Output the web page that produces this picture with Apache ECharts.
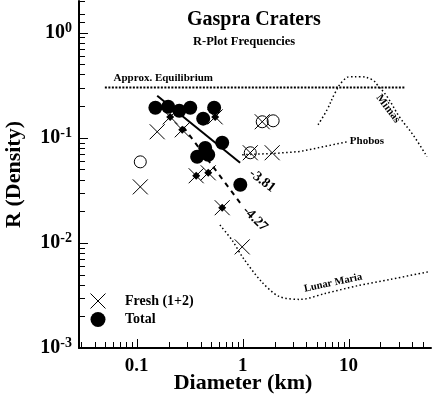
<!DOCTYPE html>
<html>
<head>
<meta charset="utf-8">
<script src="https://cdn.jsdelivr.net/npm/echarts@6/dist/echarts.min.js"></script>
<style>
  html, body { margin: 0; padding: 0; background: #fff; }
  #chart { width: 435px; height: 397px; }
</style>
</head>
<body>
<div id="chart"></div>
<script>
// values: [diameter km, R]
const totalPts = [[0.150, 0.193], [0.198, 0.197], [0.252, 0.181], [0.320, 0.193], [0.424, 0.152],
    [0.538, 0.193], [0.641, 0.0896], [0.443, 0.080], [0.372, 0.066], [0.473, 0.069], [0.95, 0.0357]];
const freshPts = [[0.156, 0.114], [0.108, 0.0341], [0.99, 0.00916], [1.53, 0.142], [1.18, 0.072], [1.90, 0.072]];
const freshInTotal = [[0.207, 0.158], [0.269, 0.119], [0.55, 0.158], [0.364, 0.0435], [0.473, 0.0464], [0.641, 0.0216]];
const openPts = [[0.108, 0.059], [1.53, 0.142], [1.94, 0.145], [1.18, 0.072]];

const fit381 = [[0.156, 0.251], [0.946, 0.0578]];
const fit427 = [[0.275, 0.127], [0.946, 0.024]];
const equilibrium = [[0.05, 0.3], [34, 0.3]];
const phobos = [[0.99, 0.069], [2.0, 0.071], [3.5, 0.074], [9.9, 0.092]];
const lunarMaria = [[0.61, 0.0148], [0.8, 0.0105], [1.0, 0.0073], [1.5, 0.0043], [2.2, 0.0031],
    [3.5, 0.0029], [6, 0.0033], [12, 0.0039], [25, 0.0045], [56, 0.0053]];
const mimas = [[5.15, 0.133], [6.27, 0.185], [7.46, 0.268], [8.69, 0.341], [10.3, 0.381], [12.8, 0.381],
    [16.7, 0.357], [18.6, 0.320], [23.1, 0.246], [30.6, 0.155], [40.5, 0.107], [55, 0.066]];

const xMajor = [0.1, 1, 10];
const xMinor = [0.03, 0.04, 0.05, 0.06, 0.07, 0.08, 0.09, 0.2, 0.3, 0.4, 0.5, 0.6, 0.7, 0.8, 0.9,
    2, 3, 4, 5, 6, 7, 8, 9, 20, 30, 40, 50];
const yMajor = [0.001, 0.01, 0.1, 1];
const yMinor = [0.002, 0.003, 0.004, 0.005, 0.006, 0.007, 0.008, 0.009, 0.02, 0.03, 0.04, 0.05, 0.06,
    0.07, 0.08, 0.09, 0.2, 0.3, 0.4, 0.5, 0.6, 0.7, 0.8, 0.9, 1.25, 1.5, 2];

const X_MIN = 0.0285, X_MAX = 60, Y_MIN = 0.001, Y_MAX = 2;
const FONT = "'Liberation Serif', 'Times New Roman', serif";
const CROSS = 'path://M0,0L10,10M10,0L0,10';

// text notes on the plot
const notes = [
    { text: 'Approx. Equilibrium', at: [0.178, 0.373], rotate: 0, size: 11 },
    { text: 'Phobos', at: [14.9, 0.0936], rotate: 0, size: 11 },
    { text: 'Lunar Maria', at: [7.14, 0.00416], rotate: 12, size: 10.5 },
    { text: 'Mimas', at: [23.6, 0.189], rotate: -53, size: 11 },
    { text: '-3.81', at: [1.53, 0.039], rotate: -37, size: 14 },
    { text: '-4.27', at: [1.31, 0.0169], rotate: -45, size: 14 }
];

const isPow10 = v => Math.abs(Math.log10(v) - Math.round(Math.log10(v))) < 1e-6;

const line = (data, style, smooth) => ({
    type: 'line', data, showSymbol: false, smooth: smooth || false, silent: true,
    lineStyle: Object.assign({ color: '#000', width: 1.5, opacity: 1 }, style)
});

const chart = echarts.init(document.getElementById('chart'), null, { renderer: 'canvas' });

try {
chart.setOption({
    animation: false,
    backgroundColor: '#fff',
    title: [
        { text: 'Gaspra Craters', left: 182, top: 5,
          textStyle: { fontFamily: FONT, fontWeight: 'bold', fontSize: 20, color: '#000' } },
        { text: 'R-Plot Frequencies', left: 188, top: 30,
          textStyle: { fontFamily: FONT, fontWeight: 'bold', fontSize: 12.5, color: '#000' } }
    ],
    legend: {
        orient: 'vertical', left: 85, top: 288, itemWidth: 30, itemHeight: 15, itemGap: 3,
        selectedMode: false,
        data: [
            { name: 'Fresh (1+2)', icon: CROSS, itemStyle: { color: 'rgba(0,0,0,0)', borderColor: '#000', borderWidth: 1, opacity: 1 } },
            { name: 'Total', icon: 'circle', itemStyle: { color: '#000', opacity: 1 } }
        ],
        textStyle: { fontFamily: FONT, fontWeight: 'bold', fontSize: 14, color: '#000', padding: [0, 0, 0, 7] }
    },
    grid: { left: 79, top: 1, width: 352, height: 347, outerBoundsMode: 'none' },
    xAxis: {
        type: 'log', logBase: 10, min: X_MIN, max: X_MAX,
        name: 'Diameter (km)', nameLocation: 'middle', nameGap: 24, nameMoveOverlap: false,
        nameTextStyle: { fontFamily: FONT, fontWeight: 'bold', fontSize: 22, color: '#000', padding: [0, 24, 0, 0] },
        axisLine: { lineStyle: { color: '#000', width: 2 } },
        axisTick: { show: false },
        splitLine: { show: false },
        axisLabel: {
            margin: 9, fontFamily: FONT, fontWeight: 'bold', fontSize: 19, color: '#000',
            showMinLabel: false, showMaxLabel: false,
            formatter: v => {
                if (!isPow10(v)) return '';
                const e = Math.round(Math.log10(v));
                return e < 0 ? v.toFixed(-e) : String(Math.round(v));
            }
        }
    },
    yAxis: {
        type: 'log', logBase: 10, min: Y_MIN, max: Y_MAX,
        name: 'R (Density)', nameLocation: 'middle', nameGap: 54, nameMoveOverlap: false,
        nameTextStyle: { fontFamily: FONT, fontWeight: 'bold', fontSize: 22, color: '#000' },
        axisLine: { lineStyle: { color: '#000', width: 2 } },
        axisTick: { show: false },
        splitLine: { show: false },
        axisLabel: {
            margin: 7, color: '#000', showMaxLabel: false,
            formatter: v => isPow10(v) ? `{b|10}{s|${Math.round(Math.log10(v))}}` : '',
            rich: {
                b: { fontFamily: FONT, fontWeight: 'bold', fontSize: 20, color: '#000' },
                s: { fontFamily: FONT, fontWeight: 'bold', fontSize: 14, color: '#000', padding: [0, 0, 9, 0] }
            }
        }
    },
    series: [
        line(equilibrium, { type: [2, 1.5], width: 2 }),
        line(phobos, { type: [1.5, 2.5] }),
        line(lunarMaria, { type: [1.5, 2.5] }, 0.3),
        line(mimas, { type: [1.5, 2.5] }, 0.4),
        line(fit381, { type: 'solid', width: 2 }),
        line(fit427, { type: [5, 5], width: 2 }),
        {
            name: 'Total', type: 'scatter', data: totalPts, symbol: 'circle', symbolSize: 14,
            itemStyle: { color: '#000', opacity: 1 }, silent: true
        },
        {
            type: 'scatter', data: openPts, symbol: 'circle', symbolSize: 12, silent: true,
            itemStyle: { color: 'rgba(0,0,0,0)', borderColor: '#000', borderWidth: 1, opacity: 1 }
        },
        {
            name: 'Fresh (1+2)', type: 'scatter', data: freshPts.concat(freshInTotal), symbol: CROSS, symbolSize: 15,
            itemStyle: { color: 'rgba(0,0,0,0)', borderColor: '#000', borderWidth: 1, opacity: 1 }, silent: true
        },
        {
            type: 'scatter', data: freshInTotal, symbol: 'diamond', symbolSize: 8,
            itemStyle: { color: '#000', opacity: 1 }, silent: true
        },
        {
            type: 'scatter', silent: true, symbolSize: 0, itemStyle: { opacity: 1 },
            data: notes.map(n => ({
                value: n.at,
                label: {
                    show: true, position: 'inside', formatter: n.text, rotate: n.rotate,
                    fontFamily: FONT, fontWeight: 'bold', fontSize: n.size, color: '#000'
                }
            }))
        }
    ]
});
} catch (e) { console.error(e); }

// inward ticks at 1..9 per decade, placed through the axes' own log scale
const tickLines = [];
const addTick = (v, horizontal, len) => {
    const p = horizontal
        ? chart.convertToPixel({ gridIndex: 0 }, [X_MIN, v])
        : chart.convertToPixel({ gridIndex: 0 }, [v, Y_MIN]);
    const x = Math.round(p[0]) + 0.5, y = Math.round(p[1]) + 0.5;
    tickLines.push({
        type: 'line', silent: true, z: 10,
        shape: horizontal ? { x1: p[0], y1: y, x2: p[0] + len, y2: y } : { x1: x, y1: p[1], x2: x, y2: p[1] - len },
        style: { stroke: '#000', lineWidth: 1 }
    });
};
xMinor.forEach(v => addTick(v, false, 6));
xMajor.forEach(v => addTick(v, false, 9));
yMinor.forEach(v => addTick(v, true, 6));
yMajor.forEach(v => addTick(v, true, 9));
chart.setOption({ graphic: tickLines });
</script>
</body>
</html>
